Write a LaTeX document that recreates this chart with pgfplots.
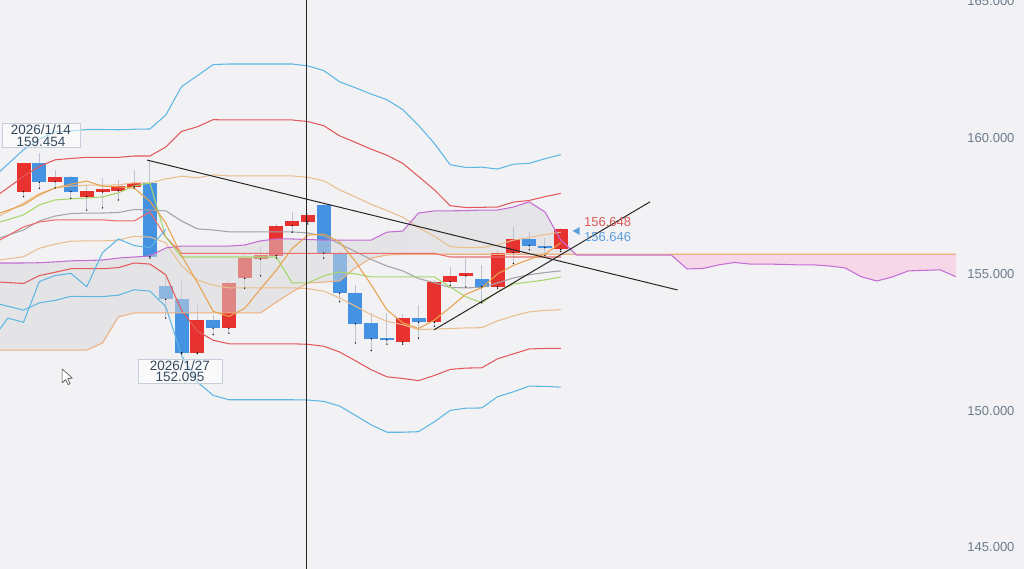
\documentclass[border=0pt]{standalone}
\usepackage{fontspec}
\setmainfont{Liberation Sans}
\usepackage{pgfplots}
\pgfplotsset{compat=1.18}
\usepgfplotslibrary{fillbetween}
\usepackage{pgfplotstable}

\definecolor{cbg}{HTML}{F2F2F4}
\definecolor{cred}{HTML}{E8322F}
\definecolor{cblue}{HTML}{4592E2}
\definecolor{bbblue}{HTML}{5DB6E3}
\definecolor{bbred}{HTML}{E3585A}
\definecolor{bbtan}{HTML}{E9BE8E}
\definecolor{bbgray}{HTML}{A3A3A8}
\definecolor{cpurple}{HTML}{C46BD6}
\definecolor{cssb}{HTML}{EDB080}
\definecolor{ckijun}{HTML}{EE6B6B}
\definecolor{ctenkan}{HTML}{A5D66A}
\definecolor{csma}{HTML}{E8A24E}
\definecolor{cwick}{HTML}{BAC4D2}
\definecolor{cpink}{HTML}{F6D3E6}
\definecolor{ccloud}{HTML}{D8D8DA}
\definecolor{ccloudsolid}{HTML}{E5E5E7}
\definecolor{ctick}{HTML}{6B7B8C}
\definecolor{cboxtext}{HTML}{34495E}
\definecolor{cboxline}{HTML}{C5CFDB}
\definecolor{cpricered}{HTML}{E05A5A}
\definecolor{cpriceblue}{HTML}{5B9FE0}

\tikzset{labelbox/.style={draw=cboxline, line width=0.7pt, fill=white, fill opacity=0.55, text opacity=1,
    align=center, inner sep=1.2pt, text=cboxtext, font=\fontsize{13.5}{11.5}\selectfont}}
\pgfplotsset{candle/.style={only marks, mark=*, mark size=0.01pt, mark options={draw=none, fill=none},
    forget plot, on layer=axis grid, error bars/.cd, y dir=plus, y explicit, error mark=none}}

% up (red) candles: x open(lo) close(hi) low high
\pgfplotstableread{
x lo hi low high
0 158.03 159.07 157.85 159.10
2 158.40 158.58 158.17 158.83
4 157.85 158.06 157.36 158.28
5 158.02 158.12 157.44 158.53
6 158.07 158.24 157.73 158.46
7 158.22 158.34 158.17 158.83
11 152.14 153.33 152.10 153.96
13 153.03 154.70 152.85 154.75
14 154.86 155.59 154.50 155.75
15 155.56 155.71 154.95 156.00
16 155.69 156.79 155.60 156.85
17 156.79 156.95 156.55 157.30
18 156.93 157.18 156.85 157.25
24 152.52 153.40 152.45 153.55
26 153.25 154.74 153.10 154.80
27 154.74 154.96 154.60 155.28
28 154.95 155.04 154.54 155.60
30 154.55 155.80 154.50 155.90
31 155.80 156.30 155.40 156.75
34 155.92 156.648 155.85 156.70
}\upc

% down (blue) candles: x close(lo) open(hi) low high
\pgfplotstableread{
x lo hi low high
1 158.38 159.07 158.16 159.454
3 158.03 158.58 157.79 158.60
8 155.65 158.34 155.60 159.19
9 154.09 154.58 153.40 154.90
10 152.14 154.09 152.095 154.80
12 153.03 153.33 152.80 153.50
19 155.78 157.55 155.60 157.60
20 154.31 155.78 154.00 155.85
21 153.19 154.33 152.49 154.62
22 152.64 153.21 152.21 153.59
23 152.60 152.67 152.45 153.59
25 153.25 153.40 152.67 153.88
29 154.55 154.84 153.96 155.35
32 156.06 156.30 155.90 156.55
33 155.98 156.06 155.70 156.35
}\downc

% Bollinger bands
\pgfplotstableread{
x U3 U2 U1 M L1 L2 L3
-1.5 158.77 157.96 157.15 156.34 155.53 154.72 153.91
0 159.57 158.59 157.61 156.63 155.65 154.67 153.69
1 159.96 158.96 157.96 156.96 155.96 154.96 153.96
2 160.23 159.20 158.17 157.14 156.11 155.08 154.05
3 160.26 159.25 158.24 157.23 156.22 155.21 154.20
4 160.31 159.29 158.27 157.25 156.23 155.21 154.19
5 160.31 159.29 158.27 157.25 156.23 155.21 154.19
6 160.30 159.29 158.28 157.27 156.26 155.25 154.24
7 160.32 159.34 158.36 157.38 156.40 155.42 154.44
8 160.33 159.34 158.35 157.36 156.37 155.38 154.39
9 160.84 159.67 158.50 157.33 156.16 154.99 153.82
10 161.88 160.24 158.60 156.96 155.32 153.68 152.04
11 162.28 160.41 158.54 156.67 154.80 152.93 151.06
12 162.69 160.67 158.65 156.63 154.61 152.59 150.57
13 162.71 160.66 158.61 156.56 154.51 152.46 150.41
14 162.71 160.66 158.61 156.56 154.51 152.46 150.41
15 162.71 160.66 158.61 156.56 154.51 152.46 150.41
16 162.71 160.66 158.61 156.56 154.51 152.46 150.41
17 162.71 160.66 158.61 156.56 154.51 152.46 150.41
18 162.64 160.60 158.56 156.52 154.48 152.44 150.40
19 162.47 160.45 158.43 156.41 154.39 152.37 150.35
20 162.06 160.08 158.10 156.12 154.14 152.16 150.18
21 161.84 159.84 157.84 155.84 153.84 151.84 149.84
22 161.61 159.59 157.57 155.55 153.53 151.51 149.49
23 161.40 159.37 157.34 155.31 153.28 151.25 149.22
24 161.04 159.07 157.10 155.13 153.16 151.19 149.22
25 160.46 158.59 156.72 154.85 152.98 151.11 149.24
26 159.80 158.10 156.40 154.70 153.00 151.30 149.60
27 159.02 157.52 156.02 154.52 153.02 151.52 150.02
28 158.92 157.45 155.98 154.51 153.04 151.57 150.10
29 158.93 157.46 155.99 154.52 153.05 151.58 150.11
30 158.86 157.47 156.08 154.69 153.30 151.91 150.52
31 159.04 157.65 156.26 154.87 153.48 152.09 150.70
32 159.07 157.71 156.35 154.99 153.63 152.27 150.91
33 159.24 157.85 156.46 155.07 153.68 152.29 150.90
34 159.39 157.97 156.55 155.13 153.71 152.29 150.87
}\bb

% Ichimoku cloud: senkou A, senkou B
\pgfplotstableread{
x a b
-1.5 155.42 152.23
0 155.42 152.23
1 155.43 152.23
2 155.46 152.23
3 155.50 152.23
4 155.51 152.23
5 155.53 152.49
6 155.60 153.44
7 155.64 153.59
8 155.68 153.59
9 155.97 153.59
10 156.04 153.59
11 156.04 153.59
12 156.04 153.59
13 156.04 153.59
14 156.08 153.59
15 156.23 153.59
16 156.30 153.99
17 156.30 154.36
18 156.28 154.69
19 156.26 154.72
20 156.26 154.76
21 156.26 155.24
22 156.26 155.60
23 156.55 155.71
24 156.59 155.74
25 157.25 155.74
26 157.33 155.74
27 157.33 155.74
28 157.34 155.74
29 157.36 155.74
30 157.36 155.74
31 157.47 155.74
32 157.66 155.74
33 157.29 155.74
34 156.26 155.74
35 155.71 155.74
36 155.71 155.74
37 155.71 155.74
38 155.71 155.74
39 155.71 155.74
40 155.71 155.74
41 155.71 155.74
42 155.20 155.74
43 155.22 155.74
44 155.35 155.74
45 155.44 155.74
46 155.38 155.74
47 155.38 155.74
48 155.37 155.74
49 155.35 155.74
50 155.35 155.74
51 155.31 155.74
52 155.24 155.74
53 154.92 155.74
54 154.76 155.74
55 154.91 155.74
56 155.13 155.74
57 155.15 155.74
58 155.17 155.74
59 154.92 155.74
}\cloud

% tenkan, kijun
\pgfplotstableread{
x t k
-1.5 156.92 156.26
0 157.18 156.74
1 157.55 156.92
2 157.73 157.00
3 157.77 157.00
4 157.80 157.00
5 157.84 157.00
6 157.99 156.96
7 158.24 156.96
8 158.35 157.29
9 156.37 156.37
10 155.64 155.77
11 155.64 155.77
12 155.64 155.77
13 155.64 155.77
14 155.64 155.77
15 155.64 155.77
16 155.64 155.77
17 154.69 155.77
18 154.69 155.77
19 154.95 155.77
20 155.09 155.77
21 155.02 155.77
22 154.91 155.77
23 154.91 155.77
24 154.91 155.77
25 154.91 155.77
26 154.91 155.77
27 154.54 155.64
28 154.18 155.64
29 153.96 155.64
30 154.36 155.64
31 154.65 155.64
32 154.72 155.64
33 154.80 155.64
34 154.91 155.64
}\tk

% chikou span
\pgfplotstableread{
x c
-2 152.60
-1 153.40
0 153.25
1 154.74
2 154.96
3 155.04
4 154.55
5 155.80
6 156.30
7 156.06
8 155.98
9 156.648
}\chikou

% 5-period moving average
\pgfplotstableread{
x s
-1.5 157.25
0 157.55
1 157.91
2 158.17
3 158.31
4 158.42
5 158.23
6 158.21
7 158.16
8 157.68
9 156.89
10 155.69
11 154.71
12 153.65
13 153.46
14 153.76
15 154.47
16 155.16
17 155.95
18 156.44
19 156.48
20 156.20
21 155.48
22 154.62
23 153.70
24 153.23
25 153.02
26 153.33
27 153.79
28 154.28
29 154.51
30 155.02
31 155.33
32 155.55
33 155.74
34 156.16
}\sma

\begin{document}
\begin{tikzpicture}
\begin{axis}[
  set layers,
  scale only axis,
  width=1024pt, height=569pt,
  xmin=-1.49, xmax=63.32,
  ymin=144.21, ymax=165.055,
  axis background/.style={fill=cbg},
  axis line style={draw=none},
  major tick length=0pt,
  xtick=\empty,
  ytick={145,150,155,160,165},
  yticklabels={145.000,150.000,155.000,160.000,165.000},
  yticklabel pos=right,
  yticklabel style={anchor=east, xshift=-6pt, text=ctick, font=\fontsize{13}{15}\selectfont},
  every axis plot/.append style={line width=1.05pt},
]
% wicks
\addplot[candle, error bar style={line width=1pt, cwick}]
  table[x=x, y=low, y error plus expr=\thisrow{high}-\thisrow{low}] {\upc};
\addplot[candle, error bar style={line width=1pt, cwick}]
  table[x=x, y=low, y error plus expr=\thisrow{high}-\thisrow{low}] {\downc};
% bodies
\addplot[candle, error bar style={line width=14pt, cred}]
  table[x=x, y=lo, y error plus expr=\thisrow{hi}-\thisrow{lo}] {\upc};
\addplot[candle, error bar style={line width=14pt, cblue}]
  table[x=x, y=lo, y error plus expr=\thisrow{hi}-\thisrow{lo}] {\downc};

% cloud: over the candles on the left part, behind them on the right part
\addplot[draw=none, name path=ssa, forget plot] table[x=x, y=a] {\cloud};
\addplot[draw=none, name path=ssb, forget plot] table[x=x, y=b] {\cloud};
\addplot[fill=ccloud, fill opacity=0.5, draw=none, forget plot]
  fill between[of=ssa and ssb, soft clip={domain=-2:24.5}];
\addplot[fill=ccloudsolid, draw=none, forget plot]
  fill between[of=ssa and ssb, soft clip={domain=24.5:35}, on layer=axis background];
\addplot[fill=cpink, fill opacity=0.85, draw=none, forget plot]
  fill between[of=ssa and ssb, soft clip={domain=35:60}];

% Bollinger bands
\addplot[bbblue] table[x=x, y=U3] {\bb};
\addplot[bbred] table[x=x, y=U2] {\bb};
\addplot[bbtan] table[x=x, y=U1] {\bb};
\addplot[bbgray] table[x=x, y=M] {\bb};
\addplot[bbtan] table[x=x, y=L1] {\bb};
\addplot[bbred] table[x=x, y=L2] {\bb};
\addplot[bbblue] table[x=x, y=L3] {\bb};

% Ichimoku lines
\addplot[cssb] table[x=x, y=b] {\cloud};
\addplot[cpurple] table[x=x, y=a] {\cloud};
\addplot[ckijun] table[x=x, y=k] {\tk};
\addplot[ctenkan] table[x=x, y=t] {\tk};
\addplot[bbblue] table[x=x, y=c] {\chikou};
\addplot[csma] table[x=x, y=s] {\sma};

% trend lines and crosshair
\addplot[black!85, line width=1pt] coordinates {(7.82,159.19) (41.4,154.43)};
\addplot[black!85, line width=1pt] coordinates {(25.98,152.97) (39.65,157.66)};
\addplot[black!85, line width=0.8pt] coordinates {(17.88,144) (17.88,166)};

% annotations
\node[labelbox, anchor=south, yshift=5pt, minimum width=78pt] at (axis cs:1.1,159.454) {2026/1/14\\159.454};
\node[labelbox, anchor=north, yshift=-5pt, minimum width=84pt] at (axis cs:9.9,152.095) {2026/1/27\\152.095};
\fill[cpriceblue] (axis cs:34.75,156.59) -- (axis cs:35.2,156.74) -- (axis cs:35.2,156.45) -- cycle;
\node[anchor=west, inner sep=1pt, text=cpricered, font=\fontsize{13}{15}\selectfont] at (axis cs:35.4,156.92) {156.648};
\node[anchor=west, inner sep=1pt, text=cpriceblue, font=\fontsize{13}{15}\selectfont] at (axis cs:35.4,156.37) {156.646};
% mouse pointer
\draw[fill=white, draw=black!70, line width=0.6pt, line join=round]
  (axis cs:2.44,151.54) -- ++(0pt,-14pt) -- ++(3.5pt,3.3pt) -- ++(2.6pt,-5pt) -- ++(2pt,1pt)
  -- ++(-2.5pt,5pt) -- ++(4.6pt,0.5pt) -- cycle;
\end{axis}
\pgfresetboundingbox
\path[use as bounding box] (current axis.south west) rectangle (current axis.north east);
\end{tikzpicture}
\end{document}
